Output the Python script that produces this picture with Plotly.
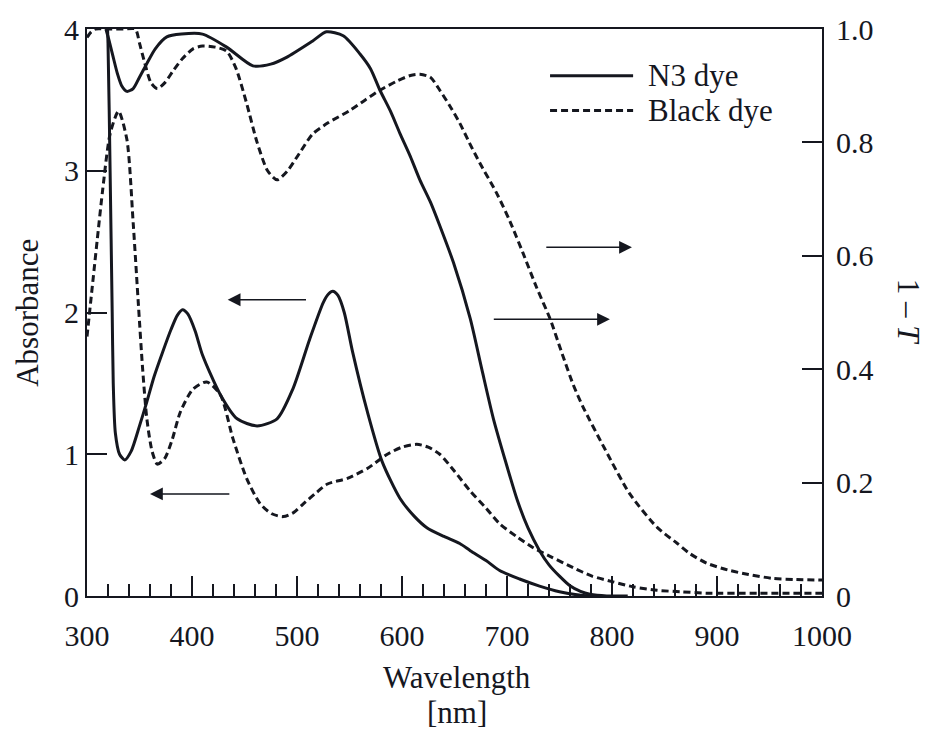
import plotly.graph_objects as go

# ---------------- data ----------------
# N3 dye absorbance (left axis)
n3_abs_wl = [318, 320, 322, 324, 325, 327, 331, 336, 342, 350, 357, 364, 372, 380, 386,
             391, 396, 403, 410, 427, 443, 462, 481, 496, 512, 525, 530, 534, 539, 545,
             553, 567, 581, 598, 612, 624, 640, 655, 665, 680, 693, 712, 731, 750, 765,
             780, 790]
n3_abs = [4.3, 3.9, 3.0, 2.0, 1.5, 1.15, 1.0, 0.96, 1.02, 1.2, 1.37, 1.55, 1.72, 1.88, 1.98,
          2.02, 1.99, 1.87, 1.70, 1.42, 1.25, 1.20, 1.25, 1.46, 1.81, 2.07, 2.13, 2.15, 2.12, 2.00,
          1.72, 1.30, 0.95, 0.69, 0.56, 0.48, 0.42, 0.37, 0.32, 0.25, 0.18, 0.12, 0.07, 0.03, 0.01,
          0.0, 0.0]

# N3 dye 1 - T (right axis)
n3_t_wl = [318, 321, 325, 329, 333, 338, 344, 350, 357, 365, 376, 390, 410, 433, 458,
           475, 490, 515, 528, 544, 560, 570, 579, 589, 598, 608, 617, 627, 636, 649,
           665, 676, 687, 699, 710, 720, 731, 740, 750, 760, 770, 779, 795, 815]
n3_t = [1.0, 0.98, 0.95, 0.921, 0.90, 0.89, 0.895, 0.915, 0.939, 0.965, 0.986, 0.991, 0.991, 0.968, 0.935,
        0.938, 0.95, 0.979, 0.995, 0.988, 0.956, 0.93, 0.892, 0.855, 0.816, 0.775, 0.734, 0.695, 0.653, 0.588,
        0.489, 0.40, 0.313, 0.235, 0.168, 0.12, 0.08, 0.055, 0.035, 0.018, 0.008, 0.003, 0.0, 0.0]

# Black dye absorbance (left axis)
bd_abs_wl = [300, 306, 311, 315, 322, 330, 338, 344, 349, 353, 357, 362, 367, 374, 381,
             389, 401, 414, 427, 439, 452, 465, 476, 487, 497, 506, 517, 529, 548, 567,
             586, 600, 614, 625, 636, 650, 665, 680, 693, 709, 725, 741, 763, 781, 801,
             820, 843, 865, 890, 940, 1000]
bd_abs = [1.83, 2.25, 2.6, 2.87, 3.26, 3.42, 3.22, 2.63, 2.05, 1.6, 1.25, 1.02, 0.93, 0.97, 1.1,
          1.30, 1.46, 1.51, 1.42, 1.11, 0.83, 0.65, 0.58, 0.56, 0.59, 0.65, 0.72, 0.79, 0.83, 0.90,
          1.00, 1.05, 1.07, 1.05, 1.00, 0.88, 0.74, 0.62, 0.51, 0.42, 0.34, 0.28, 0.20, 0.14, 0.10,
          0.065, 0.04, 0.03, 0.02, 0.02, 0.02]

# Black dye 1 - T (right axis)
bd_t_wl = [300, 304, 308, 320, 335, 346, 350, 355, 361, 367, 374, 382, 391, 401, 410,
           422, 433, 442, 452, 462, 472, 481, 491, 502, 515, 530, 550, 565, 579, 595,
           608, 617, 627, 636, 645, 655, 664, 674, 690, 703, 715, 728, 741, 752, 763,
           772, 793, 817, 843, 862, 874, 890, 910, 930, 953, 975, 1000]
bd_t = [0.985, 0.995, 1.0, 1.0, 1.0, 1.0, 0.975, 0.94, 0.905, 0.895, 0.905, 0.926, 0.948, 0.965, 0.970,
        0.968, 0.961, 0.93, 0.869, 0.80, 0.75, 0.734, 0.75, 0.78, 0.815, 0.835, 0.856, 0.875, 0.892, 0.908,
        0.918, 0.92, 0.915, 0.892, 0.866, 0.834, 0.80, 0.764, 0.711, 0.66, 0.606, 0.545, 0.489, 0.43, 0.373,
        0.335, 0.26, 0.18, 0.121, 0.093, 0.075, 0.058, 0.046, 0.038, 0.031, 0.029, 0.028]

x_ticks = [300, 400, 500, 600, 700, 800, 900, 1000]
y_ticks = [0, 1, 2, 3, 4]
y2_ticks = [0, 0.2, 0.4, 0.6, 0.8, 1.0]
y2_ticktext = ["0", "0.2", "0.4", "0.6", "0.8", "1.0"]
series_names = ["N3 dye", "Black dye"]

FONT = "Liberation Serif"
INK = "#15171f"
LW = 3
DASH = "7px,4px"

fig = go.Figure()
fig.add_trace(go.Scatter(x=n3_abs_wl, y=n3_abs, mode="lines", yaxis="y",
                         line=dict(color=INK, width=LW, shape="spline", smoothing=0.7),
                         showlegend=False))
fig.add_trace(go.Scatter(x=n3_t_wl, y=n3_t, mode="lines", yaxis="y2",
                         line=dict(color=INK, width=LW, shape="spline", smoothing=0.7),
                         showlegend=False))
fig.add_trace(go.Scatter(x=bd_abs_wl, y=bd_abs, mode="lines", yaxis="y",
                         line=dict(color=INK, width=LW, dash=DASH, shape="spline", smoothing=0.7),
                         showlegend=False))
fig.add_trace(go.Scatter(x=bd_t_wl, y=bd_t, mode="lines", yaxis="y2",
                         line=dict(color=INK, width=LW, dash=DASH, shape="spline", smoothing=0.7),
                         showlegend=False))

tickfont = dict(family=FONT, size=30, color=INK)

fig.update_layout(
    width=926, height=733,
    margin=dict(l=87, r=104, t=25, b=137),
    paper_bgcolor="white", plot_bgcolor="white",
    font=dict(family=FONT, color=INK),
    xaxis=dict(range=[300, 1000], tickvals=x_ticks, ticks="inside", ticklen=20, tickwidth=1.5,
               tickcolor=INK, showline=True, linewidth=2, linecolor=INK, mirror=True,
               showgrid=False, zeroline=False, tickfont=tickfont, ticklabelstandoff=12,
               minor=dict(tick0=300, dtick=20, ticks="inside", ticklen=12, tickwidth=1.5,
                          tickcolor=INK, showgrid=False)),
    yaxis=dict(range=[0, 4], tickvals=y_ticks, ticks="inside", ticklen=20, tickwidth=1.5,
               tickcolor=INK, showline=True, linewidth=2, linecolor=INK,
               showgrid=False, zeroline=False, tickfont=tickfont, ticklabelstandoff=0),
    yaxis2=dict(range=[0, 1], tickvals=y2_ticks, ticktext=y2_ticktext, overlaying="y", side="right",
                ticks="inside", ticklen=20, tickwidth=1.5, tickcolor=INK, showline=True,
                linewidth=2, linecolor=INK, showgrid=False, zeroline=False, tickfont=tickfont,
                ticklabelstandoff=6),
)

titlefont = dict(family=FONT, size=31, color=INK)
fig.add_annotation(text="Absorbance", xref="paper", yref="paper", x=-0.082, y=0.499,
                   textangle=-90, showarrow=False, font=titlefont, xanchor="center", yanchor="middle")
fig.add_annotation(text="1 \u2013 <i>T</i>", xref="paper", yref="paper", x=1.118, y=0.50,
                   textangle=90, showarrow=False, font=titlefont, xanchor="center", yanchor="middle")
fig.add_annotation(text="Wavelength", xref="paper", yref="paper", x=0.503, y=-0.1436,
                   showarrow=False, font=titlefont, xanchor="center", yanchor="middle")
fig.add_annotation(text="[nm]", xref="paper", yref="paper", x=0.503, y=-0.205,
                   showarrow=False, font=titlefont, xanchor="center", yanchor="middle")

# arrows indicating which axis each curve belongs to
arrow_style = dict(showarrow=True, arrowhead=2, arrowsize=1.6, arrowwidth=1.6, arrowcolor=INK, text="")
fig.add_annotation(x=434, y=2.09, ax=510, ay=2.09, xref="x", yref="y", axref="x", ayref="y", **arrow_style)
fig.add_annotation(x=360, y=0.72, ax=437, ay=0.72, xref="x", yref="y", axref="x", ayref="y", **arrow_style)
fig.add_annotation(x=798, y=0.488, ax=686, ay=0.488, xref="x", yref="y2", axref="x", ayref="y2", **arrow_style)
fig.add_annotation(x=819, y=0.615, ax=736, ay=0.615, xref="x", yref="y2", axref="x", ayref="y2", **arrow_style)

# legend key
fig.add_shape(type="line", xref="paper", yref="paper", x0=0.630, x1=0.743, y0=0.9177, y1=0.9177,
              line=dict(color=INK, width=LW))
fig.add_shape(type="line", xref="paper", yref="paper", x0=0.630, x1=0.743, y0=0.8564, y1=0.8564,
              line=dict(color=INK, width=LW, dash=DASH))
legfont = dict(family=FONT, size=31, color=INK)
fig.add_annotation(text=series_names[0], xref="paper", yref="paper", x=0.760, y=0.9177,
                   showarrow=False, font=legfont, xanchor="left", yanchor="middle")
fig.add_annotation(text=series_names[1], xref="paper", yref="paper", x=0.760, y=0.8564,
                   showarrow=False, font=legfont, xanchor="left", yanchor="middle")

fig.write_html("out.html", config={"displayModeBar": False},
               post_script="document.body.style.margin='0';document.body.style.overflow='hidden';")
